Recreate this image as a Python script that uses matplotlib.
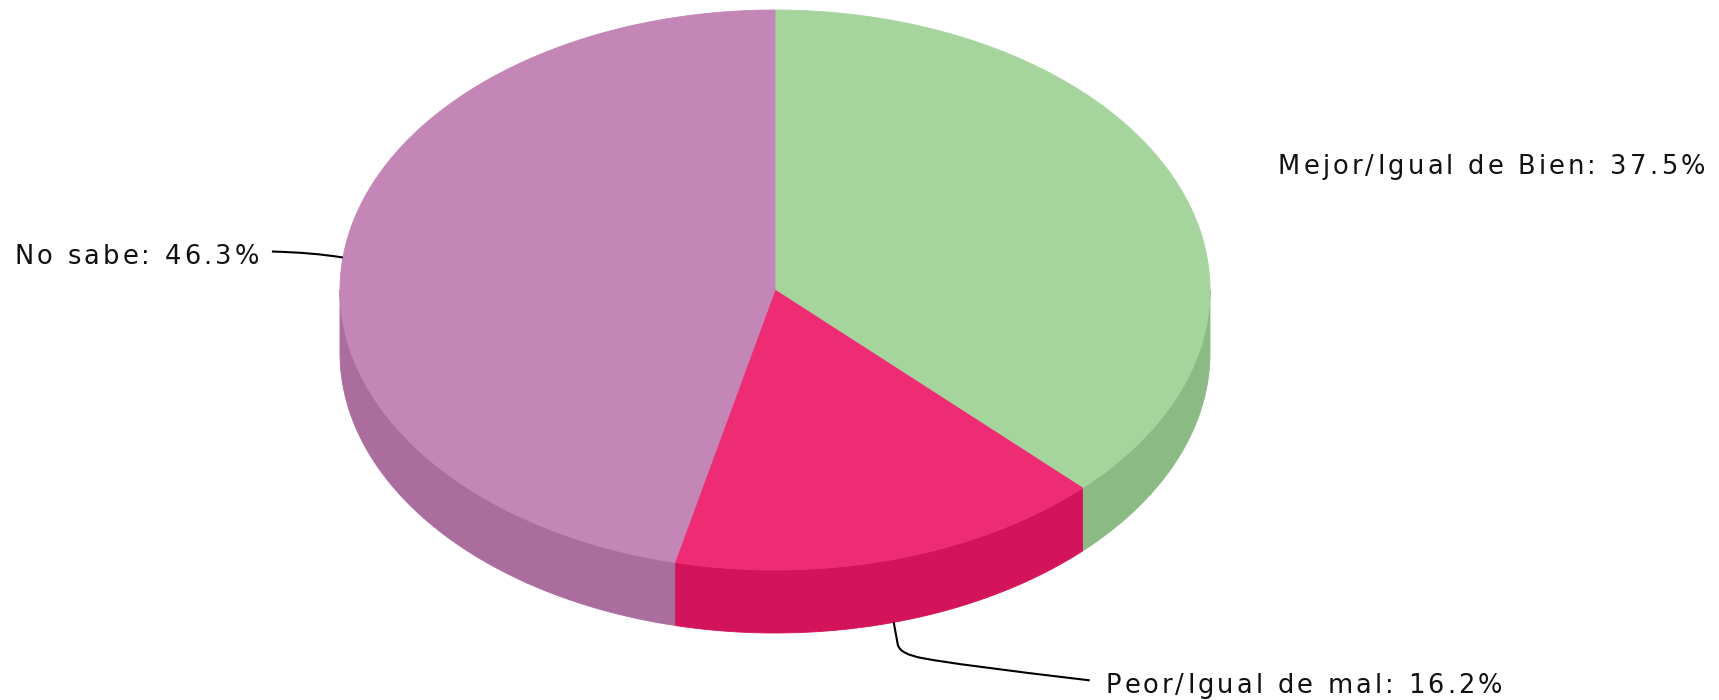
import matplotlib
matplotlib.use('Agg')
import matplotlib.pyplot as plt
from matplotlib.patches import Polygon, PathPatch
from matplotlib.path import Path
from matplotlib.font_manager import FontProperties
from matplotlib.textpath import TextToPath
import numpy as np

labels = ['Mejor/Igual de Bien', 'Peor/Igual de mal', 'No sabe']
values = [37.5, 16.2, 46.3]
top_colors = ['#A6D49D', '#EE2C74', '#C485B7']
side_colors = ['#8BBA84', '#D4145A', '#AB6C9E']

W, H = 1719, 700
DPI = 100
cx, cy = 775, 290
rx, ry = 435, 280
depth = 63

FS = 18.5
SPACING = 3.2  # extra px between letters
prop = FontProperties(family='DejaVu Sans', size=FS)
t2p = TextToPath()


def text_px(s):
    if not s:
        return 0.0
    w, h, d = t2p.get_text_width_height_descent(s, prop, ismath=False)
    return w * DPI / 72.0


def spaced_text(ax, x, y, s, ha='left'):
    # y is the baseline
    total = text_px(s) + SPACING * (len(s) - 1)
    x0 = x if ha == 'left' else x - total
    for i, ch in enumerate(s):
        xi = x0 + text_px(s[:i]) + SPACING * i
        ax.text(xi, y, ch, fontproperties=prop, color='#111111',
                ha='left', va='baseline')


def ell(phi, dy=0.0):
    # phi in degrees, clockwise from 12 o'clock, pixel coords (y down)
    p = np.radians(phi)
    return cx + rx * np.sin(p), cy - ry * np.cos(p) + dy


fig = plt.figure(figsize=(W / DPI, H / DPI), dpi=DPI)
ax = fig.add_axes([0, 0, 1, 1])
ax.set_xlim(0, W)
ax.set_ylim(H, 0)
ax.axis('off')

bounds = np.concatenate([[0], np.cumsum(values)]) / 100.0 * 360.0

# side walls (visible front half only)
for i in range(len(values)):
    a0 = max(bounds[i], 90.0)
    a1 = min(bounds[i + 1], 270.0)
    if a1 <= a0:
        continue
    phi = np.linspace(a0, a1, 120)
    xt, yt = ell(phi)
    xb, yb = ell(phi[::-1], depth)
    pts = np.column_stack([np.concatenate([xt, xb]), np.concatenate([yt, yb])])
    ax.add_patch(Polygon(pts, closed=True, fc=side_colors[i], ec=side_colors[i], lw=0.6))

# top face
for i in range(len(values)):
    phi = np.linspace(bounds[i], bounds[i + 1], 240)
    xt, yt = ell(phi)
    pts = np.column_stack([np.concatenate([[cx], xt]), np.concatenate([[cy], yt])])
    ax.add_patch(Polygon(pts, closed=True, fc=top_colors[i], ec=top_colors[i], lw=0.6))

mids = (bounds[:-1] + bounds[1:]) / 2

# Mejor/Igual de Bien (no leader line)
spaced_text(ax, 1278, 174, f'{labels[0]}: {values[0]}%', ha='left')

# Peor/Igual de mal
x0, y0 = ell(mids[1], depth)
verts = [(x0, y0), (x0 + 4, y0 + 22), (x0 + 6, y0 + 32), (x0 + 30, y0 + 36),
         (x0 + 60, y0 + 42), (x0 + 196, y0 + 58)]
codes = [Path.MOVETO, Path.LINETO, Path.CURVE3, Path.CURVE3, Path.CURVE3, Path.CURVE3]
ax.add_patch(PathPatch(Path(verts, codes), fc='none', ec='black', lw=1.5))
spaced_text(ax, x0 + 212, y0 + 71, f'{labels[1]}: {values[1]}%', ha='left')

# No sabe
x2, y2 = ell(mids[2])
verts = [(x2, y2), (x2 - 30, y2 - 5), (x2 - 71, y2 - 6)]
ax.add_patch(PathPatch(Path(verts, [Path.MOVETO, Path.CURVE3, Path.CURVE3]),
                       fc='none', ec='black', lw=1.5))
spaced_text(ax, x2 - 84, y2 + 6, f'{labels[2]}: {values[2]}%', ha='right')

fig.savefig('out.png', dpi=DPI)
